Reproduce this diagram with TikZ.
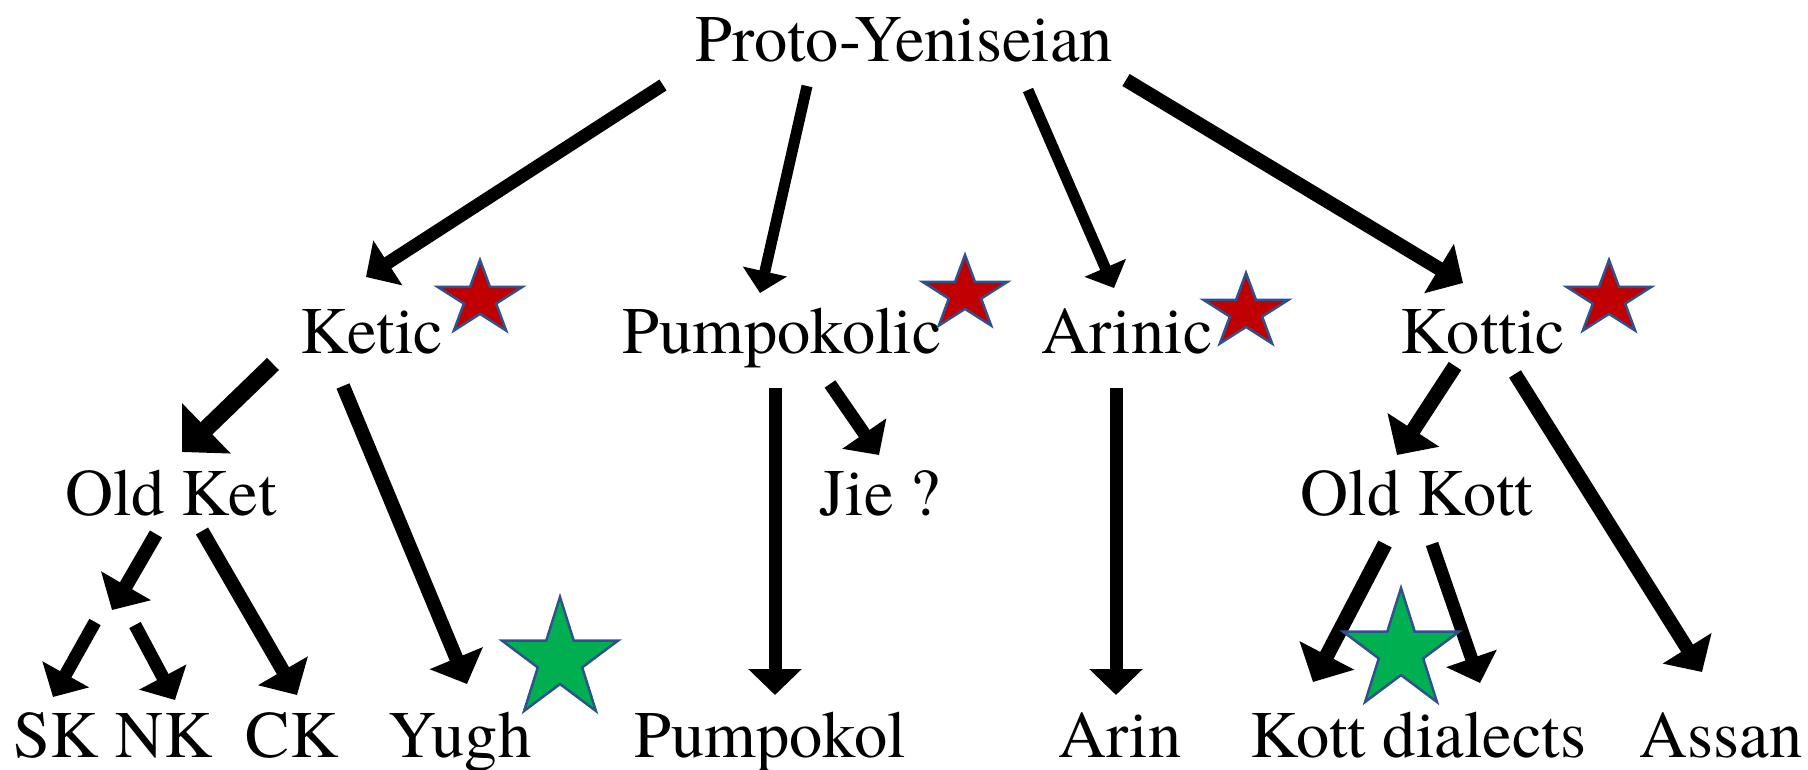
\documentclass[tikz,border=0pt]{standalone}
\usepackage{fontspec}
\setmainfont{texgyretermes-regular.otf}
\usetikzlibrary{arrows.meta,shapes.geometric}
\definecolor{starred}{HTML}{C00000}
\definecolor{stargreen}{HTML}{00B050}
\definecolor{starline}{HTML}{2F528F}

\begin{document}
\begin{tikzpicture}[x=1pt,y=-1pt,
  lbl/.style={anchor=base, inner sep=0pt, font=\rmfamily\fontsize{66.5}{80}\selectfont},
  arr/.style={line width=#1, -{Triangle[length=0pt 2,width=0pt 4]}},
  arr/.default=13pt,
  starbase/.style={star, star points=5, star point ratio=2.618, inner sep=0pt,
    outer sep=0pt, draw=starline, line width=2.5pt, transform shape},
  redstar/.style={starbase, fill=starred, minimum size=78pt},
  greenstar/.style={starbase, fill=stargreen, minimum size=126pt},
]
\useasboundingbox (0,0) rectangle (1808,770);

% ---- language labels ----
\node[lbl] (proto)      at (904,62)  {Proto-Yeniseian};
\node[lbl] (ketic)      at (372,353) {Ketic};
\node[lbl] (pumpokolic) at (782,353) {Pumpokolic};
\node[lbl] (arinic)     at (1127,353) {Arinic};
\node[lbl] (kottic)     at (1483,353) {Kottic};
\node[lbl] (oldket)     at (171,515) {Old Ket};
\node[lbl] (jie)        at (880,515) {Jie ?};
\node[lbl] (oldkott)    at (1417,515) {Old Kott};
\node[lbl] (sk)         at (56,757)  {SK};
\node[lbl] (nk)         at (164,757) {NK};
\node[lbl] (ck)         at (292,757) {CK};
\node[lbl] (yugh)       at (460,757) {Yugh};
\node[lbl] (pumpokol)   at (770,757) {Pumpokol};
\node[lbl] (arin)       at (1120,757) {Arin};
\node[lbl] (kott)       at (1418,757) {Kott dialects};
\node[lbl] (assan)      at (1721,757) {Assan};

% ---- attachment points of the branches ----
\coordinate (proto-k)   at (663,85);
\coordinate (proto-p)   at (807,86);
\coordinate (proto-a)   at (1028,90);
\coordinate (proto-ko)  at (1126,80);
\coordinate (ketic-in)  at (366,277);
\coordinate (pumpo-in)  at (760,293);
\coordinate (arinic-in) at (1114,288);
\coordinate (kottic-in) at (1463,283);

\coordinate (ketic-o)   at (273,364);
\coordinate (ketic-y)   at (343,386);
\coordinate (oldket-in) at (182,452);
\coordinate (yugh-in)   at (467,684);
\coordinate (pumpo-p)   at (775,388);
\coordinate (pumpo-j)   at (830,384);
\coordinate (pumpokol-in) at (775,695);
\coordinate (jie-in)    at (879,455);
\coordinate (arinic-o)  at (1116,388);
\coordinate (arin-in)   at (1116,695);
\coordinate (kottic-o)  at (1455,366);
\coordinate (kottic-a)  at (1515,374);
\coordinate (oldkott-in) at (1397,455);
\coordinate (assan-in)  at (1702,672);

\coordinate (oldket-s)  at (156,534);
\coordinate (oldket-c)  at (202,531);
\coordinate (split)     at (112,610);
\coordinate (split-s)   at (95,622);
\coordinate (split-n)   at (135,625);
\coordinate (sk-in)     at (53,697);
\coordinate (nk-in)     at (175,700);
\coordinate (ck-in)     at (297,695);
\coordinate (oldkott-l) at (1385,544);
\coordinate (oldkott-r) at (1432,544);
\coordinate (kott-l)    at (1313,682);
\coordinate (kott-r)    at (1480,683);

% ---- branches ----
\draw[arr=13pt] (proto-k)  -- (ketic-in);
\draw[arr=11pt] (proto-p)  -- (pumpo-in);
\draw[arr=11pt] (proto-a)  -- (arinic-in);
\draw[arr=14pt] (proto-ko) -- (kottic-in);

\draw[arr=17pt] (ketic-o)  -- (oldket-in);
\draw[arr=14pt] (ketic-y)  -- (yugh-in);
\draw[arr=13pt] (pumpo-p)  -- (pumpokol-in);
\draw[arr=13pt] (pumpo-j)  -- (jie-in);
\draw[arr=13pt] (arinic-o) -- (arin-in);
\draw[arr=15pt] (kottic-o) -- (oldkott-in);
\draw[arr=14pt] (kottic-a) -- (assan-in);

\draw[arr=14pt] (oldket-s) -- (split);
\draw[arr=13pt] (split-s)  -- (sk-in);
\draw[arr=13pt] (split-n)  -- (nk-in);
\draw[arr=14pt] (oldket-c) -- (ck-in);
\draw[arr=15pt] (oldkott-l) -- (kott-l);
\draw[arr=13pt] (oldkott-r) -- (kott-r);

% ---- stars ----
\begin{scope}[shift={(480,299)}, xscale=1.14]
  \node[redstar] (star-ketic) at (0,0) {};
\end{scope}
\begin{scope}[shift={(965,294)}, xscale=1.14]
  \node[redstar] (star-pumpokolic) at (0,0) {};
\end{scope}
\begin{scope}[shift={(1246,312)}, xscale=1.14]
  \node[redstar] (star-arinic) at (0,0) {};
\end{scope}
\begin{scope}[shift={(1609,299)}, xscale=1.14]
  \node[redstar] (star-kottic) at (0,0) {};
\end{scope}
\begin{scope}[shift={(560,660)}, xscale=0.97]
  \node[greenstar] (star-yugh) at (0,0) {};
\end{scope}
\begin{scope}[shift={(1401,651)}, xscale=0.97]
  \node[greenstar] (star-kott) at (0,0) {};
\end{scope}
\end{tikzpicture}
\end{document}
